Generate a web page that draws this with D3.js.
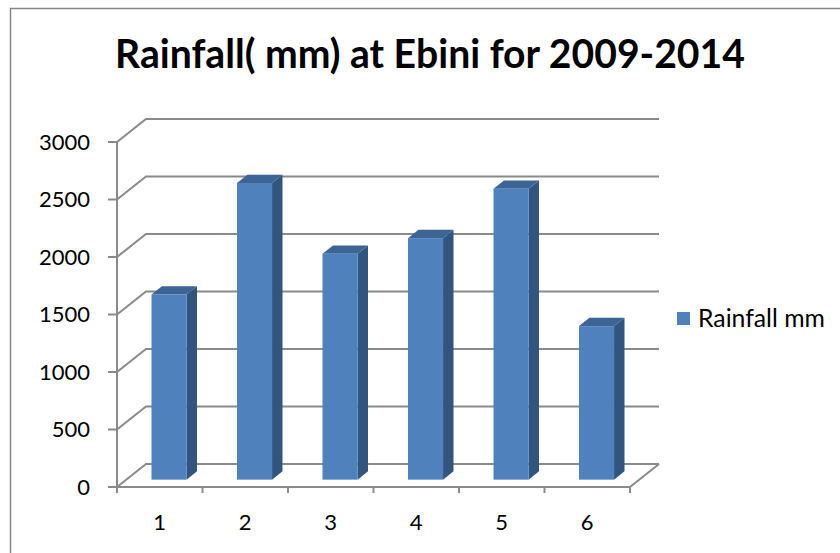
<!DOCTYPE html>
<html>
<head>
<meta charset="utf-8">
<script src="https://cdn.jsdelivr.net/npm/d3@7"></script>
<style>
  html, body { margin: 0; padding: 0; background: #fff; }
  svg { display: block; }
  text { font-family: Lato, "Open Sans", sans-serif; fill: #000; }
</style>
</head>
<body>
<svg id="chart" width="840" height="553"></svg>
<script>
// Rainfall at Ebini, one column per year index
const categories = ["1", "2", "3", "4", "5", "6"];
const rainfall = [1610, 2580, 1965, 2100, 2530, 1335];
const yTicks = [0, 500, 1000, 1500, 2000, 2500, 3000];
const seriesName = "Rainfall mm";
const titleText = "Rainfall( mm) at Ebini for 2009-2014";

const svg = d3.select("#chart");

// chart frame
svg.append("rect")
  .attr("x", 10.5).attr("y", 8.5)
  .attr("width", 840).attr("height", 560)
  .attr("fill", "none").attr("stroke", "#868686").attr("stroke-width", 1.5);

// front plane of the 3D plot area
const x = d3.scaleBand().domain(categories).range([117, 630]);
const y = d3.scaleLinear().domain([0, 3000]).range([487, 142]);

// depth of the box (back wall offset) and column placement in depth
const depth = { dx: 29, dy: -23 };
const colFront = 0.32, colBack = 0.68;
const colWidth = 0.41;

const gridColor = "#8a8a8a";
const g = svg.append("g");

// gridlines: diagonal on the left side wall + horizontal on the back wall
yTicks.forEach(v => {
  const yy = y(v);
  g.append("path")
    .attr("d", `M${x.range()[0]},${yy} L${x.range()[0] + depth.dx},${yy + depth.dy} L${x.range()[1] + depth.dx},${yy + depth.dy}`)
    .attr("fill", "none").attr("stroke", gridColor).attr("stroke-width", 2);
});

// floor right edge
g.append("line")
  .attr("x1", x.range()[1]).attr("y1", y(0))
  .attr("x2", x.range()[1] + depth.dx).attr("y2", y(0) + depth.dy)
  .attr("stroke", gridColor).attr("stroke-width", 2);

// value axis line and ticks
g.append("line")
  .attr("x1", x.range()[0]).attr("x2", x.range()[0])
  .attr("y1", y(3000)).attr("y2", y(0) + 5)
  .attr("stroke", gridColor).attr("stroke-width", 2);
yTicks.forEach(v => {
  g.append("line")
    .attr("x1", x.range()[0] - 9).attr("x2", x.range()[0])
    .attr("y1", y(v)).attr("y2", y(v))
    .attr("stroke", gridColor).attr("stroke-width", 2);
  g.append("text")
    .attr("x", 90).attr("y", y(v))
    .attr("dy", "0.36em")
    .attr("text-anchor", "end")
    .style("font-size", "22px")
    .text(v);
});

// category axis line and ticks at band boundaries
g.append("line")
  .attr("x1", x.range()[0]).attr("x2", x.range()[1])
  .attr("y1", y(0)).attr("y2", y(0))
  .attr("stroke", gridColor).attr("stroke-width", 2);
const bounds = categories.map(c => x(c)).concat([x.range()[1]]);
bounds.forEach(b => {
  g.append("line")
    .attr("x1", b).attr("x2", b)
    .attr("y1", y(0)).attr("y2", y(0) + 6)
    .attr("stroke", gridColor).attr("stroke-width", 2);
});
categories.forEach(c => {
  g.append("text")
    .attr("x", x(c) + x.bandwidth() / 2)
    .attr("y", 522)
    .attr("dy", "0.36em")
    .attr("text-anchor", "middle")
    .style("font-size", "22px")
    .text(c);
});

// 3D columns
const frontFill = "#4F81BD", sideFill = "#325580", topFill = "#3C6595";
const fdx = depth.dx * colFront, fdy = depth.dy * colFront;
const bdx = depth.dx * (colBack - colFront), bdy = depth.dy * (colBack - colFront);
const bars = svg.append("g");
categories.forEach((c, i) => {
  const w = x.bandwidth() * colWidth;
  const x0 = x(c) + (x.bandwidth() - w) / 2 + fdx;
  const x1 = x0 + w;
  const yb = y(0) + fdy;
  const yt = y(rainfall[i]) + fdy;
  const bg = bars.append("g");
  bg.append("path")
    .attr("d", `M${x1},${yb} L${x1 + bdx},${yb + bdy} L${x1 + bdx},${yt + bdy} L${x1},${yt} Z`)
    .attr("fill", sideFill);
  bg.append("path")
    .attr("d", `M${x0},${yt} L${x0 + bdx},${yt + bdy} L${x1 + bdx},${yt + bdy} L${x1},${yt} Z`)
    .attr("fill", topFill);
  bg.append("rect")
    .attr("x", x0).attr("y", yt)
    .attr("width", w).attr("height", yb - yt)
    .attr("fill", frontFill);
});

// fits a text element to a target width
function fitWidth(sel, target) {
  const size = parseFloat(sel.style("font-size"));
  const w = sel.node().getComputedTextLength();
  sel.style("font-size", (size * target / w) + "px");
}

// title
const title = svg.append("text")
  .attr("x", 430).attr("y", 54)
  .attr("dy", "0.36em")
  .attr("text-anchor", "middle")
  .style("font-size", "30px").style("font-weight", "bold")
  .text(titleText);
fitWidth(title, 630);

// legend
svg.append("rect")
  .attr("x", 677).attr("y", 312)
  .attr("width", 13).attr("height", 13)
  .attr("fill", frontFill);
const leg = svg.append("text")
  .attr("x", 698).attr("y", 318.5)
  .attr("dy", "0.36em")
  .style("font-size", "21px")
  .text(seriesName);
fitWidth(leg, 127);
</script>
</body>
</html>
